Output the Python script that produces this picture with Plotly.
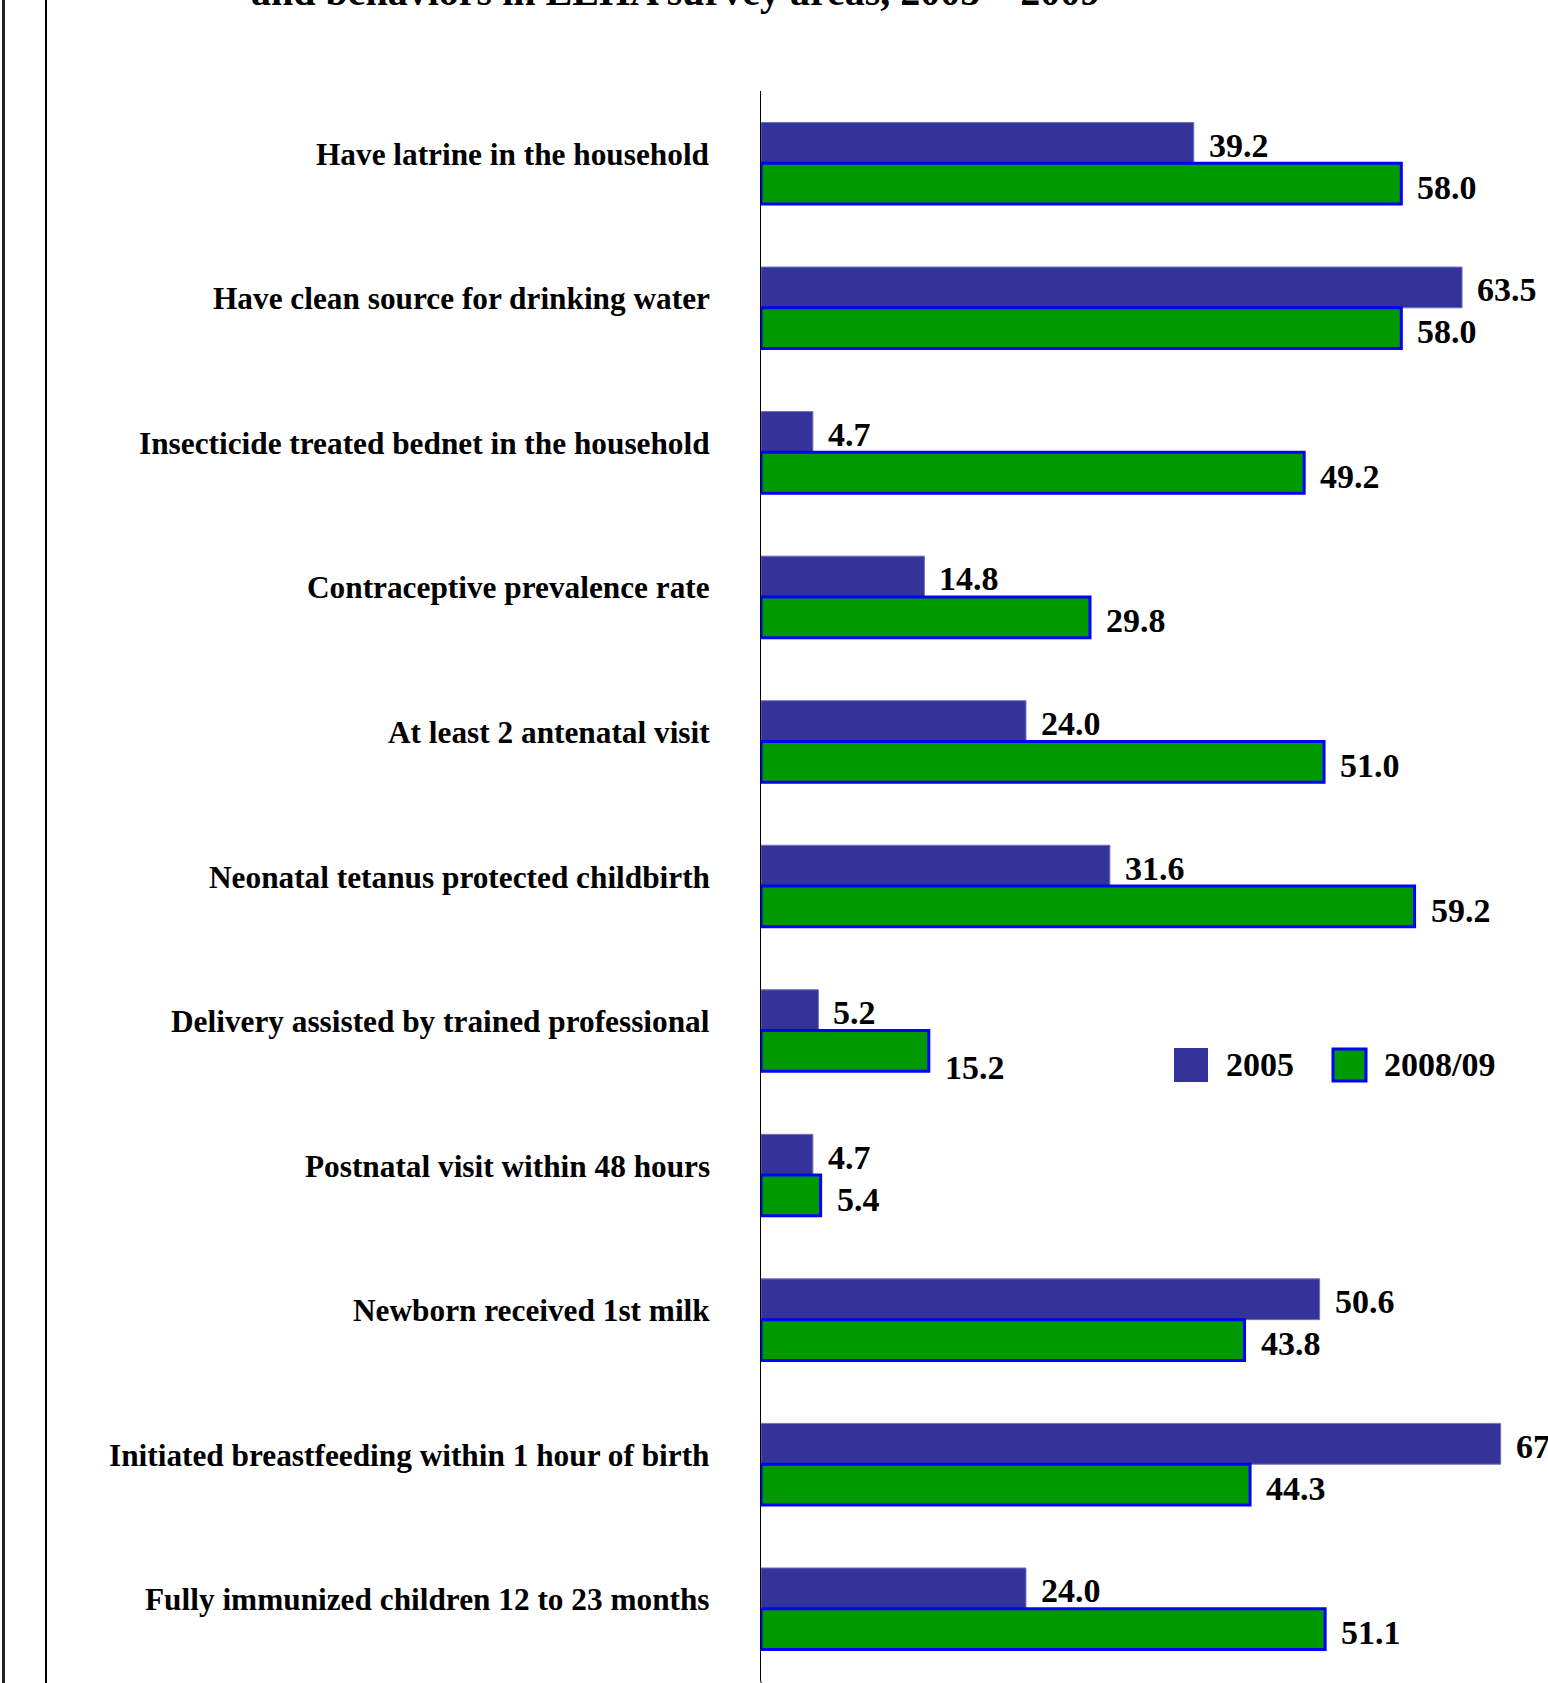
import plotly.graph_objects as go

categories = [
    "Have latrine in the household",
    "Have clean source for drinking water",
    "Insecticide treated bednet in the household",
    "Contraceptive prevalence rate",
    "At least 2 antenatal visit",
    "Neonatal tetanus protected childbirth",
    "Delivery assisted by trained professional",
    "Postnatal visit within 48 hours",
    "Newborn received 1st milk",
    "Initiated breastfeeding within 1 hour of birth",
    "Fully immunized children 12 to 23 months",
]
values_2005 = [39.2, 63.5, 4.7, 14.8, 24.0, 31.6, 5.2, 4.7, 50.6, 67.0, 24.0]
values_2008 = [58.0, 58.0, 49.2, 29.8, 51.0, 59.2, 15.2, 5.4, 43.8, 44.3, 51.1]
series_names = ["2005", "2008/09"]
title_text = "and behaviors in LEHA survey areas, 2005 \u2013 2009"

W, H = 1548, 1683
ML, MT, MB = 761, 91, 2
PW, PH = W - ML, H - MT - MB
FONT = "Liberation Serif"
BLUE = "#333399"
GREEN = "#009900"
# extra vertical nudge (px) of individual 2008/09 value labels, as in the original
label_nudge_2008 = {"Delivery assisted by trained professional": -13}


def px2x(px):
    return (px - ML) / PW


def px2y(py):
    return 1 - (py - MT) / PH


fig = go.Figure()
fig.add_trace(go.Bar(
    y=categories, x=values_2005, orientation="h", name=series_names[0],
    marker=dict(color=BLUE, line=dict(color="#7070c0", width=1)),
    showlegend=False,
))
fig.add_trace(go.Bar(
    y=categories, x=values_2008, orientation="h", name=series_names[1],
    marker=dict(color=GREEN, line=dict(color="#0000ff", width=3)),
    showlegend=False,
))

annotations = []
for cat, v in zip(categories, values_2005):
    annotations.append(dict(x=v, y=cat, xref="x", yref="y", text=f"<b>{v:.1f}</b>",
                            showarrow=False, xanchor="left", yanchor="middle",
                            xshift=13, yshift=18,
                            font=dict(family=FONT, size=34, color="black")))
for cat, v in zip(categories, values_2008):
    annotations.append(dict(x=v, y=cat, xref="x", yref="y", text=f"<b>{v:.1f}</b>",
                            showarrow=False, xanchor="left", yanchor="middle",
                            xshift=14, yshift=-24 + label_nudge_2008.get(cat, 0),
                            font=dict(family=FONT, size=34, color="black")))
for cat in categories:
    annotations.append(dict(x=0, y=cat, xref="paper", yref="y", text=f"<b>{cat}</b>",
                            showarrow=False, xanchor="right", yanchor="middle",
                            xshift=-49, yshift=9,
                            font=dict(family=FONT, size=31.3, color="black")))

# title (only its last line peeks in at the top of the page)
annotations.append(dict(x=px2x(249), y=1, xref="paper", yref="paper", text=f"<b>{title_text}</b>",
                        showarrow=False, xanchor="left", yanchor="middle", yshift=100,
                        font=dict(family=FONT, size=40, color="black")))

# manual legend
annotations.append(dict(x=px2x(1224), y=px2y(1064), xref="paper", yref="paper",
                        text=f"<b>{series_names[0]}</b>", showarrow=False,
                        xanchor="left", yanchor="middle",
                        font=dict(family=FONT, size=34, color="black")))
annotations.append(dict(x=px2x(1382), y=px2y(1064), xref="paper", yref="paper",
                        text=f"<b>{series_names[1]}</b>", showarrow=False,
                        xanchor="left", yanchor="middle",
                        font=dict(family=FONT, size=34, color="black")))

shapes = [
    dict(type="rect", xref="paper", yref="paper",
         x0=px2x(1174), x1=px2x(1208), y0=px2y(1082), y1=px2y(1048),
         fillcolor=BLUE, line=dict(width=0)),
    dict(type="rect", xref="paper", yref="paper",
         x0=px2x(1333), x1=px2x(1366), y0=px2y(1081), y1=px2y(1049),
         fillcolor=GREEN, line=dict(color="#0000ff", width=3)),
    # page border lines at the left
    dict(type="line", xref="paper", yref="paper",
         x0=px2x(3.5), x1=px2x(3.5), y0=px2y(H + 5), y1=px2y(-5),
         line=dict(color="#202020", width=3)),
    dict(type="line", xref="paper", yref="paper",
         x0=px2x(46), x1=px2x(46), y0=px2y(H + 5), y1=px2y(-5),
         line=dict(color="#000000", width=2)),
    # y-axis line continues to the bottom of the page
    dict(type="line", xref="paper", yref="paper",
         x0=0, x1=0, y0=px2y(H + 5), y1=0,
         line=dict(color="#000000", width=1)),
]

fig.update_layout(
    width=W, height=H,
    margin=dict(l=ML, r=0, t=MT, b=MB, pad=0),
    barmode="group", bargap=0.436, bargroupgap=0,
    plot_bgcolor="white", paper_bgcolor="white",
    annotations=annotations, shapes=shapes,
    showlegend=False,
    xaxis=dict(range=[0, PW / 11.04], visible=False, fixedrange=True),
    yaxis=dict(type="category", autorange="reversed", showticklabels=False,
               showline=True, linecolor="black", linewidth=1, showgrid=False,
               zeroline=False, ticks=""),
)

fig.write_html("out.html")
